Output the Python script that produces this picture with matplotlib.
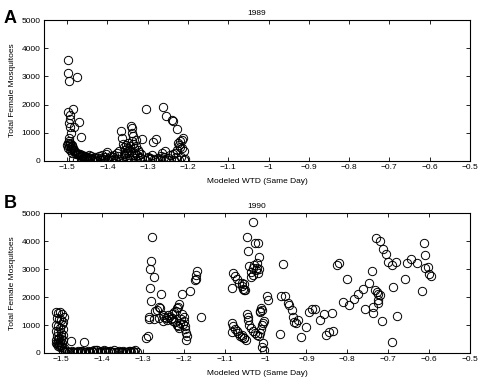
import numpy as np
import matplotlib
matplotlib.use('Agg')
import matplotlib.pyplot as plt

plt.rcParams['font.family'] = ['Liberation Sans', 'DejaVu Sans']

# ---- 1989 data ----
x89_high = [-1.497, -1.498, -1.496, -1.476, -1.498, -1.486, -1.494, -1.493, -1.495, -1.494, -1.471, -1.482, -1.466, -1.496, -1.490]
y89_high = [3600, 3120, 2830, 2970, 1750, 1830, 1620, 1480, 1350, 1200, 1390, 1210, 860, 830, 980]

x89_base = [-1.500, -1.498, -1.496, -1.494, -1.492, -1.490, -1.488, -1.486, -1.499, -1.495, -1.491, -1.487, -1.484, -1.482, -1.493, -1.489]
y89_base = [560, 620, 540, 600, 650, 500, 580, 470, 450, 700, 420, 520, 400, 350, 380, 300]

x89_tail = [-1.480, -1.478, -1.476, -1.474, -1.472, -1.470, -1.468, -1.466, -1.464, -1.462, -1.460, -1.458, -1.456, -1.454, -1.452,
            -1.450, -1.448, -1.446, -1.444, -1.442, -1.440, -1.437, -1.434, -1.431, -1.428, -1.425, -1.422, -1.419, -1.416, -1.413,
            -1.410, -1.407, -1.404, -1.401, -1.398, -1.395, -1.392, -1.389, -1.386, -1.383, -1.380, -1.377, -1.374, -1.371]
y89_tail = [320, 260, 290, 230, 250, 200, 240, 180, 210, 160, 190, 130, 170, 110, 150,
            90, 140, 200, 70, 120, 180, 60, 110, 150, 40, 90, 170, 30, 120, 200,
            80, 140, 250, 320, 60, 110, 180, 30, 130, 220, 70, 280, 160, 350]

x89_floor = [-1.485, -1.475, -1.462, -1.450, -1.438, -1.426, -1.414, -1.402, -1.390, -1.378, -1.366, -1.354,
             -1.342, -1.330, -1.318, -1.306, -1.294, -1.282, -1.270, -1.258, -1.246, -1.234, -1.222, -1.210]
y89_floor = [60, 30, 50, 20, 40, 10, 50, 30, 20, 40, 10, 30, 50, 20, 40, 30, 60, 20, 40, 30, 50, 20, 30, 40]

x89_mid = [-1.366, -1.363, -1.361, -1.359, -1.357, -1.355, -1.353, -1.351, -1.349, -1.347, -1.345, -1.343,
           -1.341, -1.340, -1.339, -1.338, -1.337, -1.336, -1.334, -1.332, -1.330, -1.328, -1.326, -1.324,
           -1.322, -1.320, -1.318, -1.316, -1.313, -1.360, -1.356, -1.352, -1.348, -1.344, -1.335, -1.331]
y89_mid = [1060, 830, 600, 480, 380, 550, 300, 450, 650, 220, 400, 520,
           1240, 1180, 1000, 700, 880, 600, 450, 300, 520, 750, 200, 400,
           320, 150, 100, 250, 780, 250, 180, 120, 350, 100, 200, 90]

x89_right = [-1.304, -1.300, -1.295, -1.290, -1.286, -1.279, -1.275, -1.270, -1.265, -1.263, -1.260, -1.254,
             -1.250, -1.245, -1.240, -1.238, -1.232, -1.228, -1.226, -1.225, -1.223, -1.221, -1.219, -1.217,
             -1.215, -1.212, -1.210, -1.214, -1.208, -1.230, -1.236, -1.256, -1.268, -1.284, -1.298]
y89_right = [1840, 150, 100, 200, 690, 770, 120, 80, 300, 1930, 150, 1600,
             100, 220, 1450, 1420, 300, 400, 1140, 650, 580, 700, 500, 150,
             750, 830, 350, 450, 80, 150, 250, 350, 180, 60, 120]

# ---- 1990 data ----
x90_left = [-1.512, -1.508, -1.503, -1.498, -1.494, -1.511, -1.506, -1.500, -1.496, -1.513, -1.509, -1.504,
            -1.499, -1.495, -1.512, -1.507, -1.502, -1.497, -1.510, -1.505, -1.500, -1.496, -1.513, -1.508,
            -1.503, -1.498, -1.511, -1.506, -1.501, -1.509, -1.504, -1.499, -1.494, -1.512, -1.507, -1.502,
            -1.476, -1.444]
y90_left = [1480, 1420, 1450, 1380, 1300, 1250, 1200, 1180, 1100, 1000, 950, 900,
            1050, 850, 800, 750, 700, 650, 600, 550, 500, 450, 450, 400,
            380, 350, 320, 300, 280, 250, 220, 200, 180, 350, 500, 600,
            440, 380]

x90_low = [-1.495, -1.490, -1.485, -1.480, -1.475, -1.470, -1.465, -1.460, -1.455, -1.450, -1.445, -1.440,
           -1.435, -1.430, -1.425, -1.420, -1.415, -1.410, -1.405, -1.400, -1.395, -1.390, -1.385, -1.380,
           -1.375, -1.370, -1.365, -1.360, -1.355, -1.350, -1.345, -1.340, -1.335, -1.330, -1.325, -1.320,
           -1.315,
           -1.492, -1.482, -1.472, -1.462, -1.452, -1.442, -1.432, -1.422, -1.412, -1.402, -1.392, -1.382,
           -1.372, -1.362, -1.352, -1.342, -1.332, -1.322]
y90_low = [80, 40, 60, 30, 70, 50, 20, 60, 40, 80, 30, 50,
           70, 40, 60, 110, 90, 50, 30, 70, 120, 80, 40, 60,
           30, 90, 50, 70, 40, 60, 30, 50, 80, 40, 60, 100,
           50,
           30, 50, 20, 40, 60, 30, 50, 20, 90, 40, 30, 60,
           20, 50, 40, 30, 60, 20]

x90_mid = [-1.293, -1.289, -1.277, -1.281, -1.284, -1.274, -1.283, -1.280, -1.285, -1.286, -1.273, -1.270,
           -1.256, -1.262, -1.259, -1.266, -1.262, -1.252, -1.248, -1.245, -1.240, -1.236, -1.232, -1.228,
           -1.224, -1.220, -1.217, -1.214, -1.211, -1.221, -1.215, -1.210, -1.207, -1.205, -1.230, -1.226,
           -1.218, -1.200, -1.199, -1.198, -1.197, -1.195, -1.196, -1.193, -1.185, -1.205, -1.168, -1.170,
           -1.171, -1.172, -1.158, -1.250, -1.242, -1.212, -1.203]
y90_mid = [525, 620, 4130, 3300, 2990, 2720, 2330, 1870, 1290, 1200, 1200, 1500,
           2120, 1650, 1600, 1540, 1250, 1140, 1300, 1250, 1350, 1300, 1200, 1400,
           1450, 1500, 1600, 1650, 1750, 1100, 960, 1070, 1200, 1400, 1250, 1150,
           1000, 1300, 1130, 950, 840, 700, 460, 620, 2220, 2100, 2940, 2780,
           2650, 2600, 1270, 1350, 1180, 900, 1050]

x90_c1 = [-1.083, -1.079, -1.074, -1.070, -1.064, -1.058, -1.052, -1.083, -1.079, -1.075, -1.071, -1.067,
          -1.063, -1.058, -1.053, -1.083, -1.043, -1.044, -1.045]
y90_c1 = [2330, 2870, 2760, 2640, 2500, 2400, 2250, 1080, 950, 850, 780, 700,
          620, 580, 550, 760, 1180, 1300, 1380]

x90_c2 = [-1.031, -1.046, -1.026, -1.019, -1.042, -1.015, -1.040, -1.035, -1.032, -1.028, -1.024, -1.020,
          -1.016, -1.030, -1.036, -1.018, -1.022, -1.057, -1.052, -1.055, -1.050]
y90_c2 = [4670, 4150, 3940, 3920, 3650, 3440, 3100, 2900, 3050, 3150, 2950, 3200,
          3000, 2800, 2700, 2850, 3050, 2500, 2450, 2300, 2250]

x90_c3 = [-1.040, -1.035, -1.030, -1.025, -1.020, -1.015, -1.057, -1.052, -1.047, -1.007, -1.003, -1.013,
          -1.011, -1.009, -1.006, -1.004, -1.010, -1.012, -0.997, -0.995, -1.013, -1.014, -1.008]
y90_c3 = [1000, 900, 800, 700, 650, 600, 650, 550, 450, 350, 110, 700,
          850, 1000, 1070, 1150, 225, 1620, 2040, 1890, 1490, 1460, 1540]

x90_right = [-0.957, -0.966, -0.962, -0.953, -0.945, -0.942, -0.935, -0.932, -0.930, -0.920, -0.926, -0.900,
             -0.913, -0.895, -0.887, -0.879, -0.868, -0.858, -0.838, -0.852, -0.845, -0.836, -0.826, -0.820,
             -0.801, -0.811, -0.795, -0.784, -0.773, -0.761, -0.748, -0.740, -0.733, -0.728, -0.724, -0.720,
             -0.724, -0.726, -0.737, -0.736, -0.758, -0.716, -0.730, -0.720, -0.712, -0.705, -0.700, -0.690,
             -0.680, -0.688, -0.679, -0.691, -0.658, -0.654, -0.643, -0.629, -0.612, -0.610, -0.610, -0.602,
             -0.600, -0.596, -0.618]
y90_right = [3180, 680, 2040, 2040, 1800, 1710, 1540, 1300, 1110, 1180, 1060, 920,
             580, 1470, 1560, 1560, 1180, 1390, 1440, 640, 750, 790, 3140, 3220,
             2630, 1830, 1710, 1930, 2100, 2280, 2490, 2940, 2250, 2180, 2100, 2070,
             1890, 1770, 1650, 1440, 1560, 1140, 4120, 4010, 3700, 3520, 3260, 3140,
             3240, 2350, 1330, 390, 2630, 3200, 3350, 3220, 3920, 3500, 3020, 3080,
             2810, 2750, 2220]

x89 = x89_high + x89_base + x89_tail + x89_floor + x89_mid + x89_right
y89 = y89_high + y89_base + y89_tail + y89_floor + y89_mid + y89_right
x90 = x90_left + x90_low + x90_mid + x90_c1 + x90_c2 + x90_c3 + x90_right
y90 = y90_left + y90_low + y90_mid + y90_c1 + y90_c2 + y90_c3 + y90_right

xticks = [-1.5, -1.4, -1.3, -1.2, -1.1, -1.0, -0.9, -0.8, -0.7, -0.6, -0.5]
xticklabels = ['\u22121.5', '\u22121.4', '\u22121.3', '\u22121.2', '\u22121.1', '\u22121',
               '\u22120.9', '\u22120.8', '\u22120.7', '\u22120.6', '\u22120.5']
yticks = [0, 1000, 2000, 3000, 4000, 5000]

fig = plt.figure(figsize=(4.8, 3.86), dpi=100)
ax1 = fig.add_axes([0.092, 0.583, 0.887, 0.365])
ax2 = fig.add_axes([0.092, 0.0855, 0.887, 0.3625])

panels = [(ax1, x89, y89, '1989', -1.557), (ax2, x90, y90, '1990', -1.542)]
for ax, x, y, title, xmin in panels:
    ax.plot(x, y, 'o', mfc='none', mec='k', ms=6, mew=0.7, clip_on=True)
    ax.set_xlim(xmin, -0.5)
    ax.set_ylim(0, 5000)
    ax.set_xticks(xticks)
    ax.set_xticklabels(xticklabels)
    ax.set_yticks(yticks)
    ax.tick_params(direction='in', top=True, right=True, length=3, width=0.6, labelsize=6, pad=2.5)
    for s in ax.spines.values():
        s.set_linewidth(0.8)
    ax.set_title(title, fontsize=6, pad=4)
    ax.set_xlabel('Modeled WTD (Same Day)', fontsize=6, labelpad=5)
    ax.set_ylabel('Total Female Mosquitoes', fontsize=6, labelpad=4)

fig.text(0.008, 0.975, 'A', fontsize=13, fontweight='bold', va='top', ha='left')
fig.text(0.008, 0.495, 'B', fontsize=13, fontweight='bold', va='top', ha='left')

fig.savefig('out.png', dpi=100)
